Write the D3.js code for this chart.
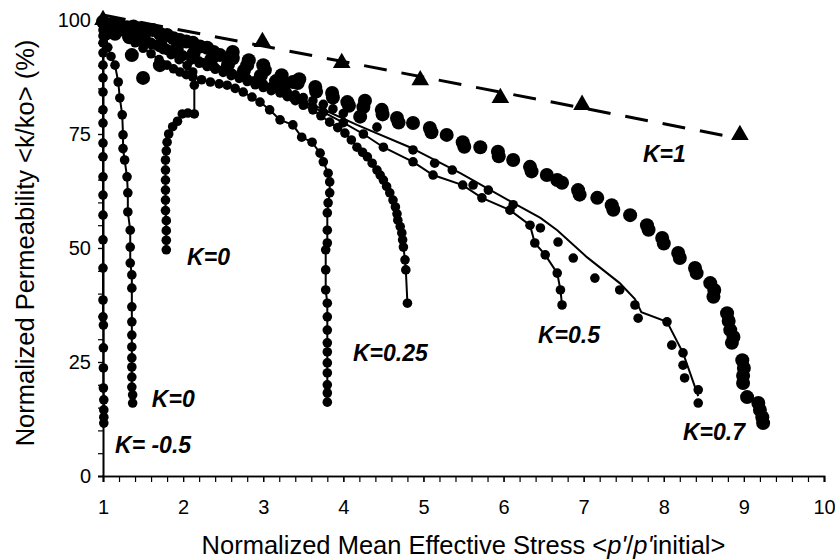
<!DOCTYPE html>
<html>
<head>
<meta charset="utf-8">
<script src="https://cdn.jsdelivr.net/npm/d3@7"></script>
<style>
  html, body { margin: 0; padding: 0; background: #fff; }
  svg { display: block; }
  text { font-family: "Liberation Sans", Arial, sans-serif; fill: #000; }
</style>
</head>
<body>
<svg id="chart" width="835" height="560"></svg>
<script>
// Axis tick labels
const xTickLabels = [1, 2, 3, 4, 5, 6, 7, 8, 9, 10];
const yTickLabels = [0, 25, 50, 75, 100];

// K = 1 : triangle markers and their dashed linear trend
const k1Triangles = [
  {x: 1.0, y: 100}, {x: 2.99, y: 95.2}, {x: 3.98, y: 90.6}, {x: 4.96, y: 86.8},
  {x: 5.96, y: 82.9}, {x: 6.98, y: 81.4}, {x: 8.95, y: 74.8}
];
const k1Trend = [{x: 1.0, y: 101.1}, {x: 8.95, y: 74.0}];

// K = 1 : large circle markers (no connecting line)
const k1Dots = [
  {x:1.0,y:99.6},{x:1.05,y:98.8},{x:1.12,y:99.2},{x:1.21,y:98.9},{x:1.3,y:98.4},{x:1.38,y:98.6},
  {x:1.46,y:98.2},{x:1.54,y:97.6},{x:1.62,y:97.8},{x:1.71,y:97.0},{x:1.80,y:96.7},{x:1.88,y:96.0},
  {x:1.96,y:95.6},{x:2.04,y:95.3},{x:2.12,y:95.0},{x:2.21,y:94.2},{x:2.30,y:93.9},{x:2.38,y:93.0},
  {x:2.46,y:92.3},{x:2.62,y:93.0},{x:2.62,y:91.6},{x:2.80,y:90.1},{x:2.82,y:91.2},{x:3.00,y:90.1},
  {x:3.02,y:89.0},{x:3.23,y:87.9},{x:3.27,y:86.2},{x:3.37,y:86.4},{x:3.43,y:86.2},{x:3.45,y:87.0},
  {x:3.65,y:85.3},{x:3.66,y:84.3},{x:3.86,y:84.0},{x:3.87,y:83.0},{x:4.05,y:82.0},{x:4.07,y:81.2},
  {x:4.25,y:80.9},{x:4.27,y:82.3},{x:4.48,y:80.3},{x:4.49,y:79.3},{x:4.67,y:78.5},{x:4.69,y:77.5},
  {x:4.87,y:77.4},{x:5.08,y:76.3},{x:5.10,y:75.4},{x:5.29,y:74.8},{x:5.49,y:73.2},{x:5.51,y:72.2},
  {x:5.71,y:72.1},{x:5.93,y:71.1},{x:5.94,y:70.1},{x:6.12,y:69.3},{x:6.33,y:67.8},{x:6.35,y:66.8},
  {x:6.54,y:66.0},{x:6.67,y:64.9},{x:6.73,y:64.3},{x:6.93,y:62.7},{x:6.95,y:61.7},{x:7.17,y:61.0},
  {x:7.35,y:59.4},{x:7.37,y:58.4},{x:7.58,y:57.2},{x:7.79,y:55.0},{x:7.81,y:54.0},{x:7.98,y:52.2},
  {x:8.00,y:51.0},{x:8.18,y:48.9},{x:8.20,y:47.8},{x:8.39,y:45.6},{x:8.41,y:44.5},{x:8.58,y:42.3},
  {x:8.63,y:40.8},{x:8.62,y:39.3},{x:8.79,y:35.7},{x:8.81,y:34.0},{x:8.83,y:32.0},{x:8.87,y:30.5},
  {x:8.85,y:29.2},{x:8.98,y:25.4},{x:9.00,y:23.7},{x:8.99,y:22.0},{x:8.99,y:20.4},{x:9.04,y:17.3},
  {x:9.18,y:16.0},{x:9.20,y:14.5},{x:9.23,y:12.9},{x:9.24,y:11.6},
  {x:1.36,y:92.3},{x:1.71,y:90.1},{x:1.50,y:87.3},
  {x:1.15,y:97.0},{x:1.33,y:96.2},{x:1.52,y:95.4},{x:1.72,y:94.6},{x:1.92,y:93.6},{x:2.13,y:92.6},
  {x:2.35,y:91.3},{x:2.56,y:90.2},{x:2.76,y:88.9},{x:2.97,y:87.8},{x:3.16,y:86.6},{x:4.21,y:78.8}
];

// K = 0.7 : measured points and the fitted solid curve
const k07Dots = [
  {x:1.0,y:100},{x:1.08,y:99.0},{x:1.15,y:98.5},{x:1.22,y:97.8},{x:1.3,y:97.2},{x:1.4,y:96.5},
  {x:1.5,y:95.8},{x:1.6,y:95.1},{x:1.7,y:94.4},{x:1.8,y:93.7},{x:1.9,y:93.0},{x:2.0,y:92.3},
  {x:2.1,y:91.6},{x:2.2,y:91.0},{x:2.3,y:90.3},{x:2.4,y:89.6},{x:2.5,y:89.0},{x:2.6,y:88.4},
  {x:2.7,y:87.8},{x:2.8,y:87.2},{x:2.9,y:86.6},{x:3.0,y:86.0},{x:3.1,y:85.4},{x:3.2,y:84.8},
  {x:3.3,y:84.2},{x:3.4,y:83.6},{x:3.5,y:83.0},{x:3.62,y:82.3},{x:3.75,y:81.5},{x:3.87,y:80.5},
  {x:4.0,y:79.5},{x:4.42,y:76.5},
  {x:4.87,y:71.5},{x:5.14,y:68.6},{x:5.36,y:67.1},{x:5.62,y:63.8},{x:5.81,y:62.7},{x:6.12,y:59.5},
  {x:6.46,y:54.4},{x:6.68,y:51.3},{x:6.87,y:47.8},{x:7.14,y:43.4},{x:7.45,y:40.8},{x:7.64,y:37.5},
  {x:7.68,y:34.6},{x:8.04,y:33.8},{x:8.10,y:28.7},{x:8.24,y:27.0},{x:8.24,y:24.3},{x:8.26,y:21.5},
  {x:8.43,y:18.9},{x:8.43,y:16.0}
];
const k07Curve = [
  {x:1.0,y:100},{x:1.5,y:96.5},{x:2.0,y:93.0},{x:2.5,y:89.5},{x:3.21,y:84.0},{x:3.71,y:80.7},
  {x:4.17,y:77.0},{x:4.83,y:72.1},{x:5.46,y:66.4},{x:6.12,y:59.9},{x:6.46,y:56.6},{x:6.67,y:53.9},
  {x:7.04,y:48.0},{x:7.45,y:42.3},{x:7.64,y:38.8},{x:7.72,y:35.9},{x:8.04,y:33.8},{x:8.24,y:27.0},
  {x:8.43,y:17.5}
];

// K = 0.5
const k05 = [
  {x:1.0,y:100},{x:1.1,y:98.8},{x:1.18,y:98.2},{x:1.25,y:97.6},{x:1.32,y:97.0},{x:1.4,y:96.4},
  {x:1.5,y:95.7},{x:1.6,y:95.0},{x:1.7,y:94.3},{x:1.8,y:93.6},{x:1.9,y:92.9},{x:2.0,y:92.2},
  {x:2.12,y:91.4},{x:2.25,y:90.6},{x:2.37,y:89.8},{x:2.5,y:89.0},{x:2.62,y:88.2},{x:2.75,y:87.4},
  {x:2.87,y:86.6},{x:3.0,y:85.8},{x:3.12,y:84.9},{x:3.25,y:84.0},{x:3.37,y:83.0},{x:3.5,y:82.0},
  {x:3.62,y:80.9},{x:3.75,y:79.8},{x:4.0,y:77.5},{x:4.25,y:75.0},{x:4.50,y:72.1},{x:4.87,y:68.9},
  {x:5.12,y:66.0},{x:5.49,y:63.8},{x:5.73,y:61.0},{x:6.08,y:58.3},{x:6.33,y:55.0},{x:6.39,y:51.1},
  {x:6.52,y:48.5},{x:6.67,y:44.5},{x:6.71,y:40.8},{x:6.73,y:37.5}
];

// K = 0.25 : curve ending near p'/p'0 = 4.8
const k025b = [
  {x:1.0,y:100},{x:1.05,y:99.0},{x:1.1,y:98.3},{x:1.2,y:97.5},{x:1.3,y:96.8},{x:1.4,y:96.0},
  {x:1.5,y:95.3},{x:1.6,y:94.6},{x:1.7,y:94.0},{x:1.8,y:93.3},{x:1.9,y:92.6},{x:2.0,y:92.0},
  {x:2.1,y:91.2},{x:2.2,y:90.5},{x:2.3,y:89.8},{x:2.4,y:89.2},{x:2.5,y:88.5},{x:2.6,y:87.8},
  {x:2.7,y:87.2},{x:2.8,y:86.5},{x:2.9,y:85.8},{x:3.0,y:85.2},{x:3.1,y:84.5},{x:3.21,y:84.0},
  {x:3.3,y:83.2},{x:3.4,y:82.3},{x:3.5,y:81.3},{x:3.62,y:80.3},{x:3.72,y:79.0},{x:3.83,y:77.6},
  {x:3.93,y:76.4},{x:4.02,y:75.2},{x:4.1,y:73.7},{x:4.17,y:72.1},{x:4.24,y:71.0},{x:4.30,y:70.0},
  {x:4.36,y:68.6},{x:4.42,y:67.1},{x:4.46,y:66.0},{x:4.50,y:64.9},{x:4.54,y:63.5},{x:4.58,y:62.1},
  {x:4.62,y:60.5},{x:4.65,y:59.0},{x:4.67,y:57.5},{x:4.68,y:56.1},{x:4.71,y:54.7},{x:4.73,y:53.3},
  {x:4.74,y:51.8},{x:4.75,y:50.2},{x:4.77,y:47.4},{x:4.78,y:45.2},{x:4.80,y:37.9}
];

// K = 0.25 : curve that turns vertical near p'/p'0 = 3.8
const k025a = [
  {x:1.0,y:100},{x:1.05,y:99.2},{x:1.12,y:98.3},{x:1.2,y:97.3},{x:1.3,y:96.2},{x:1.4,y:95.0},
  {x:1.5,y:93.8},{x:1.6,y:92.6},{x:1.7,y:91.3},{x:1.80,y:90.1},{x:1.88,y:89.3},{x:1.96,y:88.6},
  {x:2.04,y:88.0},{x:2.12,y:87.5},{x:2.23,y:86.9},{x:2.34,y:86.4},{x:2.45,y:86.0},{x:2.55,y:85.7},
  {x:2.65,y:85.0},{x:2.75,y:84.2},{x:2.86,y:83.1},{x:2.96,y:82.0},{x:3.08,y:80.3},{x:3.21,y:78.1},
  {x:3.37,y:77.0},{x:3.48,y:74.3},{x:3.61,y:73.2},{x:3.71,y:70.8},{x:3.75,y:68.9},{x:3.81,y:66.4},
  {x:3.83,y:64.5},{x:3.83,y:62.1},{x:3.81,y:59.9},{x:3.80,y:57.7},{x:3.80,y:53.9},{x:3.80,y:51.1},
  {x:3.78,y:49.6},{x:3.78,y:45.2},{x:3.78,y:40.8},{x:3.80,y:37.9},{x:3.80,y:34.9},{x:3.80,y:32.0},
  {x:3.80,y:29.2},{x:3.80,y:27.2},{x:3.80,y:24.8},{x:3.80,y:22.6},{x:3.80,y:20.0},{x:3.80,y:18.2},
  {x:3.80,y:16.2}
];

// K = 0 : test that drops near p'/p'0 = 1.8
const k0b = [
  {x:1.0,y:100},{x:1.08,y:99.0},{x:1.15,y:98.5},{x:1.25,y:97.6},{x:1.35,y:97.0},{x:1.45,y:96.0},
  {x:1.55,y:95.3},{x:1.65,y:94.5},{x:1.75,y:93.5},{x:1.85,y:92.4},{x:1.95,y:91.3},{x:2.05,y:90.0},
  {x:2.12,y:88.6},{x:2.14,y:85.7},{x:2.14,y:79.4},{x:2.06,y:79.6},{x:1.99,y:79.4},{x:1.93,y:77.8},
  {x:1.87,y:76.6},{x:1.82,y:75.0},{x:1.80,y:73.2},{x:1.79,y:71.3},{x:1.78,y:69.3},{x:1.78,y:67.1},
  {x:1.78,y:64.9},{x:1.78,y:62.7},{x:1.78,y:60.5},{x:1.78,y:58.2},{x:1.79,y:56.0},{x:1.79,y:53.8},
  {x:1.79,y:51.7},{x:1.79,y:49.6}
];

// K = 0 : test that drops near p'/p'0 = 1.37
const k0a = [
  {x:1.0,y:100},{x:1.02,y:98.5},{x:1.04,y:96.5},{x:1.06,y:94.0},{x:1.1,y:92.0},{x:1.15,y:90.1},
  {x:1.19,y:86.4},{x:1.21,y:82.9},{x:1.24,y:79.2},{x:1.25,y:74.8},{x:1.25,y:71.8},{x:1.27,y:69.3},
  {x:1.30,y:65.6},{x:1.31,y:62.1},{x:1.31,y:57.9},{x:1.34,y:53.9},{x:1.34,y:50.2},{x:1.34,y:46.7},
  {x:1.36,y:44.1},{x:1.36,y:41.2},{x:1.36,y:37.1},{x:1.36,y:33.8},{x:1.36,y:30.9},{x:1.36,y:28.3},
  {x:1.36,y:25.9},{x:1.36,y:23.9},{x:1.36,y:21.7},{x:1.36,y:19.5},{x:1.37,y:17.8},{x:1.37,y:16.0}
];

// K = -0.5 : permeability drop with almost no change in mean stress
const kNeg05 = [
  {x:1.0,y:100},{x:1.0,y:98.9},{x:1.0,y:97.8},{x:1.0,y:96.5},{x:1.0,y:95.0},{x:1.0,y:92.8},
  {x:1.0,y:90.1},{x:1.0,y:87.3},{x:1.0,y:84.2},{x:1.0,y:80.3},{x:1.0,y:77.4},{x:1.0,y:73.0},
  {x:1.0,y:70.0},{x:1.0,y:65.6},{x:1.0,y:61.6},{x:1.0,y:57.2},{x:1.0,y:51.8},{x:1.0,y:45.6},
  {x:1.0,y:38.6},{x:1.0,y:34.9},{x:1.005,y:33.1},{x:1.005,y:28.1},{x:1.005,y:23.7},{x:1.005,y:19.3},
  {x:1.01,y:16.7},{x:1.01,y:14.5},{x:1.01,y:12.9},{x:1.01,y:11.6}
];

// Curve labels
const curveLabels = [
  {text: "K=1",     x: 7.74, y: 68.9},
  {text: "K=0",     x: 2.05, y: 46.3},
  {text: "K=0",     x: 1.61, y: 15.1},
  {text: "K= -0.5", x: 1.15, y: 5.0},
  {text: "K=0.25",  x: 4.12, y: 25.2},
  {text: "K=0.5",   x: 6.43, y: 29.2},
  {text: "K=0.7",   x: 8.24, y: 7.9}
];

const svg = d3.select("#chart");
const x = d3.scaleLinear().domain([1, 10]).range([103, 824]);
const y = d3.scaleLinear().domain([0, 100]).range([476, 20]);

// Axes: minor ticks first, then labelled major ticks
const xMinor = d3.range(1, 10.0001, 0.2);
const yMinor = d3.range(0, 100.0001, 5);

const gx = svg.append("g").attr("transform", `translate(0,${y(0)})`);
gx.call(d3.axisBottom(x).tickValues(xMinor).tickSize(6).tickFormat(""));
const gxl = svg.append("g").attr("transform", `translate(0,${y(0)})`);
gxl.call(d3.axisBottom(x).tickValues(xTickLabels).tickSize(6).tickPadding(18).tickFormat(d3.format("d")));

const gy = svg.append("g").attr("transform", `translate(${x(1)},0)`);
gy.call(d3.axisLeft(y).tickValues(yMinor).tickSize(5).tickFormat(""));
const gyl = svg.append("g").attr("transform", `translate(${x(1)},0)`);
gyl.call(d3.axisLeft(y).tickValues(yTickLabels).tickSize(5).tickPadding(7).tickFormat(d3.format("d")));

svg.selectAll(".domain").attr("stroke", "#000").attr("stroke-width", 1.6);
svg.selectAll(".tick line").attr("stroke", "#000").attr("stroke-width", 1.2);
svg.selectAll(".tick text").attr("font-family", "Liberation Sans, Arial, sans-serif")
  .attr("font-size", 20).attr("fill", "#000");
gxl.selectAll(".tick text").attr("dy", "0.71em");

// Axis titles
svg.append("text")
  .attr("x", (x(1) + x(10)) / 2).attr("y", 554)
  .attr("text-anchor", "middle").attr("font-size", 25.5)
  .html("Normalized Mean Effective Stress &lt;<tspan font-style='italic'>p'</tspan>/<tspan font-style='italic'>p'</tspan>initial&gt;");

svg.append("text")
  .attr("transform", `translate(34,${(y(0) + y(100)) / 2 - 5}) rotate(-90)`)
  .attr("text-anchor", "middle").attr("font-size", 25.5)
  .text("Normalized Permeability <k/ko> (%)");

const plot = svg.append("g");
const line = d3.line().x(d => x(d.x)).y(d => y(d.y));

// Dashed trend for K = 1 and its triangles
plot.append("path").datum(k1Trend)
  .attr("d", line).attr("fill", "none").attr("stroke", "#000")
  .attr("stroke-width", 3).attr("stroke-dasharray", "23,15");

plot.selectAll(".tri").data(k1Triangles).join("path")
  .attr("class", "tri")
  .attr("transform", d => `translate(${x(d.x)},${y(d.y)})`)
  .attr("d", d3.symbol(d3.symbolTriangle, 135));

// Large circles for K = 1
plot.selectAll(".big").data(k1Dots).join("circle")
  .attr("class", "big").attr("cx", d => x(d.x)).attr("cy", d => y(d.y)).attr("r", 7);

// Fitted curve for K = 0.7
plot.append("path").datum(k07Curve)
  .attr("d", line).attr("fill", "none")
  .attr("stroke", "#000").attr("stroke-width", 2);

plot.selectAll(".k07").data(k07Dots).join("circle")
  .attr("class", "k07").attr("cx", d => x(d.x)).attr("cy", d => y(d.y)).attr("r", 4.8);

// Connected series with small circles
const connected = [k05, k025b, k025a, k0b, k0a, kNeg05];
connected.forEach((s, i) => {
  plot.append("path").datum(s)
    .attr("d", line).attr("fill", "none").attr("stroke", "#000").attr("stroke-width", 2);
  plot.selectAll(".s" + i).data(s).join("circle")
    .attr("class", "s" + i).attr("cx", d => x(d.x)).attr("cy", d => y(d.y)).attr("r", 4.8);
});

// Curve labels
svg.selectAll(".klabel").data(curveLabels).join("text")
  .attr("class", "klabel")
  .attr("x", d => x(d.x)).attr("y", d => y(d.y))
  .attr("font-size", 23).attr("font-weight", "bold").attr("font-style", "italic")
  .text(d => d.text);
</script>
</body>
</html>
